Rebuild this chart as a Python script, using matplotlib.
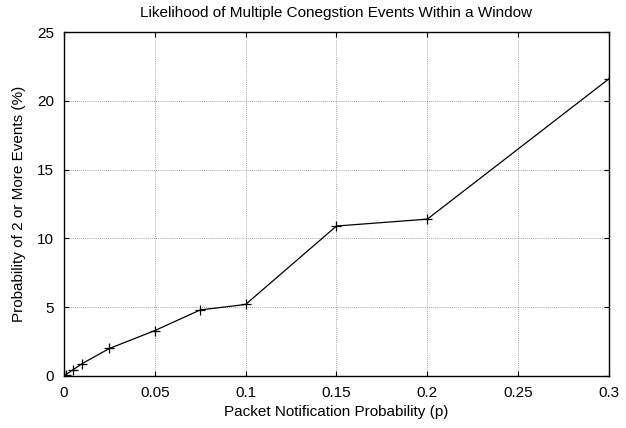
import matplotlib
matplotlib.use("Agg")
import matplotlib.pyplot as plt

plt.rcParams['font.family'] = ['Liberation Sans', 'DejaVu Sans']

p = [0.0, 0.001, 0.005, 0.01, 0.025, 0.05, 0.075, 0.1, 0.15, 0.2, 0.3]
prob = [0.0, 0.1, 0.45, 0.9, 2.0, 3.3, 4.8, 5.2, 10.9, 11.4, 21.6]
xticks = [0, 0.05, 0.1, 0.15, 0.2, 0.25, 0.3]
xlabels = ['0', '0.05', '0.1', '0.15', '0.2', '0.25', '0.3']
yticks = [0, 5, 10, 15, 20, 25]

fig = plt.figure(figsize=(6.26, 4.28), dpi=100)
ax = fig.add_axes([0.1022, 0.1215, 0.8706, 0.8037])

ax.plot(p, prob, color='black', linewidth=0.9, marker='+', markersize=7, markeredgewidth=0.9)

ax.set_xlim(0, 0.3)
ax.set_ylim(0, 25)
ax.set_xticks(xticks)
ax.set_xticklabels(xlabels)
ax.set_yticks(yticks)
ax.grid(True, linestyle=(0, (1, 1.5)), color='#8a8a8a', linewidth=0.6)
ax.tick_params(direction='in', top=True, right=True, length=3.5, labelsize=11, pad=7)
for s in ax.spines.values():
    s.set_linewidth(1.0)

ax.set_xlabel('Packet Notification Probability (p)', fontsize=11, labelpad=4)
ax.set_ylabel('Probability of 2 or More Events (%)', fontsize=11, labelpad=8)
ax.set_title('Likelihood of Multiple Conegstion Events Within a Window', fontsize=11, pad=11)

fig.savefig('out.png', dpi=100)
